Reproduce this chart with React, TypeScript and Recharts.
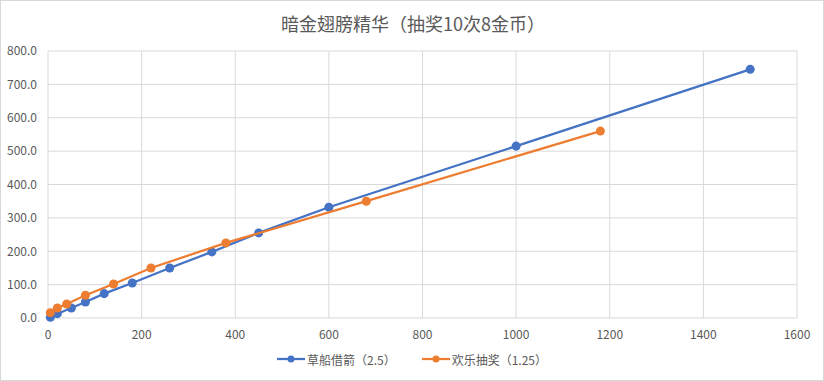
import React from "react";
import { ScatterChart, Scatter, XAxis, YAxis, ZAxis, CartesianGrid, Legend } from "recharts";

const title = "暗金翅膀精华（抽奖10次8金币）";
const seriesNames = ["草船借箭（2.5）", "欢乐抽奖（1.25）"];
const seriesColors = ["#4472C4", "#ED7D31"];

const blueX = [5, 20, 50, 80, 120, 180, 260, 350, 450, 600, 1000, 1500];
const blueY = [2, 13, 30, 48, 73, 105, 150, 198, 255, 332, 515, 745];

const orangeX = [5, 20, 40, 80, 140, 220, 380, 680, 1180];
const orangeY = [16, 30, 42, 68, 102, 150, 225, 350, 560];

const xTicks = [0, 200, 400, 600, 800, 1000, 1200, 1400, 1600];
const yTicks = [0, 100, 200, 300, 400, 500, 600, 700, 800];

const blueData = blueX.map((x, i) => ({ x, y: blueY[i] }));
const orangeData = orangeX.map((x, i) => ({ x, y: orangeY[i] }));

const FONT = "'Noto Sans CJK SC', 'Noto Sans', sans-serif";

const LegendContent = () => (
  <div style={{ display: "flex", justifyContent: "center", alignItems: "center", height: 24, fontFamily: FONT, fontSize: 12, color: "#595959" }}>
    {seriesNames.map((n, i) => (
      <div key={n} style={{ display: "flex", alignItems: "center", marginLeft: i === 0 ? 0 : 26 }}>
        <svg width={28} height={10} style={{ marginRight: 2 }}>
          <line x1={0} y1={5} x2={28} y2={5} stroke={seriesColors[i]} strokeWidth={2.25} />
          <circle cx={14} cy={5} r={3.5} fill={seriesColors[i]} />
        </svg>
        <span>{n}</span>
      </div>
    ))}
  </div>
);

export default function App() {
  return (
    <div style={{ position: "absolute", left: 0, top: 0, width: 824, height: 381, background: "#fff", boxSizing: "border-box", border: "1px solid #d9d9d9" }}>
      <div style={{ position: "absolute", left: 0, top: 9, width: 824, textAlign: "center", fontFamily: FONT, fontSize: 18, color: "#595959" }}>
        {title}
      </div>
      <div style={{ position: "absolute", left: -1, top: -1 }}>
        <ScatterChart width={824} height={381} margin={{ top: 51, right: 27, left: 0, bottom: 19 }}>
          <CartesianGrid stroke="#d9d9d9" strokeWidth={1} />
          <XAxis
            type="number"
            dataKey="x"
            domain={[0, 1600]}
            ticks={xTicks}
            interval={0}
            axisLine={false}
            tickLine={false}
            tickMargin={6}
            height={20}
            tick={{ fill: "#595959", fontSize: 12, fontFamily: FONT }}
          />
          <YAxis
            type="number"
            dataKey="y"
            domain={[0, 800]}
            ticks={yTicks}
            interval={0}
            axisLine={false}
            tickLine={false}
            tickMargin={5}
            width={48}
            tickFormatter={(v: number) => v.toFixed(1)}
            tick={{ fill: "#595959", fontSize: 12, fontFamily: FONT }}
          />
          <ZAxis range={[40, 40]} />
          <Legend verticalAlign="bottom" content={LegendContent} wrapperStyle={{ height: 24, bottom: 10, left: 0, width: 824 }} />
          <Scatter
            name={seriesNames[0]}
            data={blueData}
            fill={seriesColors[0]}
            line={{ stroke: seriesColors[0], strokeWidth: 2.25 }}
            lineType="joint"
            shape="circle"
            isAnimationActive={false}
          />
          <Scatter
            name={seriesNames[1]}
            data={orangeData}
            fill={seriesColors[1]}
            line={{ stroke: seriesColors[1], strokeWidth: 2.25 }}
            lineType="joint"
            shape="circle"
            isAnimationActive={false}
          />
        </ScatterChart>
      </div>
    </div>
  );
}
